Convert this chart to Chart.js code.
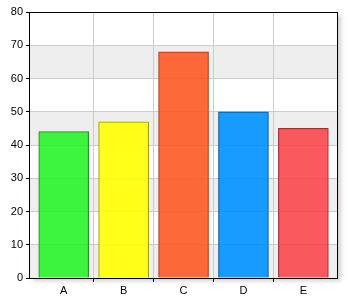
<!DOCTYPE html>
<html>
<head>
<meta charset="utf-8">
<script src="https://cdn.jsdelivr.net/npm/chart.js@4/dist/chart.umd.min.js"></script>
<style>
html,body{margin:0;padding:0;background:#fff;}
#wrap{width:350px;height:300px;}
</style>
</head>
<body>
<div id="wrap"><canvas id="c" width="350" height="300"></canvas></div>
<script>
const categories = ['A', 'B', 'C', 'D', 'E'];
const values = [44, 47, 68, 50, 45];
const fillColors = ['rgba(40,244,40,0.9)', 'rgba(255,255,0,0.9)', 'rgba(255,89,36,0.9)', 'rgba(0,145,255,0.9)', 'rgba(250,72,77,0.9)'];
const borderColors = ['#2a8a2a', '#9a9a00', '#a0401a', '#0a5a9a', '#a03035'];
const yTicks = [0, 10, 20, 30, 40, 50, 60, 70, 80];

const framePlugin = {
  id: 'frame',
  beforeDraw(chart) {
    const {ctx, chartArea: a, scales} = chart;
    ctx.save();
    ctx.shadowColor = 'rgba(0,0,0,0.18)';
    ctx.shadowBlur = 4;
    ctx.shadowOffsetX = 3;
    ctx.shadowOffsetY = 3;
    ctx.fillStyle = '#fff';
    ctx.fillRect(a.left, a.top, a.right - a.left, a.bottom - a.top);
    ctx.restore();
    ctx.save();
    ctx.fillStyle = '#eeeeee';
    for (let i = 0; i < yTicks.length - 1; i += 2) {
      const y1 = scales.y.getPixelForValue(yTicks[i]);
      const y2 = scales.y.getPixelForValue(yTicks[i + 1]);
      ctx.fillRect(a.left, y2, a.right - a.left, y1 - y2);
    }
    ctx.restore();
  },
  afterDraw(chart) {
    const {ctx, chartArea: a} = chart;
    ctx.save();
    ctx.strokeStyle = '#000';
    ctx.lineWidth = 1;
    const l = Math.round(a.left) - 0.5, t = Math.round(a.top) + 0.5;
    const r = Math.round(a.right) - 0.5, b = Math.round(a.bottom) + 0.5;
    ctx.strokeRect(l, t, r - l, b - t);
    ctx.restore();
  }
};

const xTickValues = [];
for (let i = -0.5; i <= categories.length - 0.5; i += 0.5) xTickValues.push(i);
const isInnerBoundary = v => Math.abs(v % 1) === 0.5 && v > 0 && v < categories.length - 1;

new Chart(document.getElementById('c'), {
  type: 'bar',
  data: {
    datasets: [{
      data: values.map((v, i) => ({x: i, y: v})),
      backgroundColor: fillColors,
      borderColor: borderColors,
      borderWidth: 1,
      borderSkipped: 'start',
      barThickness: 50
    }]
  },
  options: {
    responsive: false,
    animation: false,
    layout: {padding: {top: 12, right: 12, left: 0, bottom: 0}},
    plugins: {legend: {display: false}, tooltip: {enabled: false}},
    font: {family: 'Liberation Sans, Arial, sans-serif', size: 11},
    scales: {
      x: {
        type: 'linear',
        offset: false,
        min: -0.563,
        max: 4.578,
        afterBuildTicks(scale) { scale.ticks = xTickValues.map(v => ({value: v})); },
        afterFit(scale) { scale.height = 22; },
        grid: {
          offset: false,
          color: ctx => (ctx.tick && isInnerBoundary(ctx.tick.value)) ? '#cccccc' : 'rgba(0,0,0,0)',
          tickColor: ctx => (ctx.tick && isInnerBoundary(ctx.tick.value)) ? '#000' : 'rgba(0,0,0,0)',
          tickLength: 4,
          lineWidth: 1
        },
        border: {display: false},
        ticks: {
          autoSkip: false,
          maxRotation: 0,
          padding: 2,
          color: '#000',
          font: {family: 'Liberation Sans, Arial, sans-serif', size: 11},
          callback: v => Number.isInteger(v) ? categories[v] : ''
        }
      },
      y: {
        min: 0,
        max: 80,
        afterBuildTicks(scale) { scale.ticks = yTicks.map(v => ({value: v})); },
        afterFit(scale) { scale.width = 30; },
        grid: {color: '#cccccc', tickColor: '#000', tickLength: 4, lineWidth: 1},
        border: {display: false},
        ticks: {
          padding: 3,
          color: '#000',
          font: {family: 'Liberation Sans, Arial, sans-serif', size: 11}
        }
      }
    }
  },
  plugins: [framePlugin]
});
</script>
</body>
</html>
